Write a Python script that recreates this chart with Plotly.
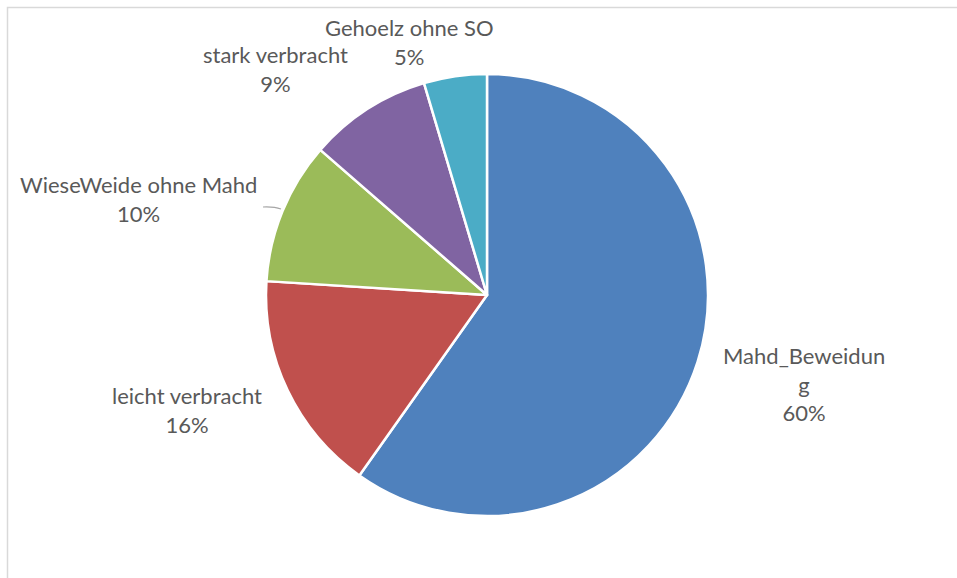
import plotly.graph_objects as go

# Flächenanteile der Nutzungskategorien
categories = ["Mahd_Beweidung", "leicht verbracht", "WieseWeide ohne Mahd",
              "stark verbracht", "Gehoelz ohne SO"]
values = [59.8, 16.2, 10.4, 9.0, 4.6]
display_names = ["Mahd_Beweidun<br>g", "leicht verbracht", "WieseWeide ohne Mahd",
                 "stark verbracht", "Gehoelz ohne SO"]
colors = ["#4F81BD", "#C0504D", "#9BBB59", "#8064A2", "#4BACC6"]

W, H = 957, 578
cx, cy, R = 487, 295, 221

fig = go.Figure(go.Pie(
    labels=categories,
    values=values,
    sort=False,
    direction="clockwise",
    rotation=0,
    marker=dict(colors=colors, line=dict(color="white", width=2.5)),
    textinfo="none",
    hoverinfo="label+percent",
    showlegend=False,
    domain=dict(x=[(cx - R) / W, (cx + R) / W], y=[1 - (cy + R) / H, 1 - (cy - R) / H]),
))

# label anchor positions (pixel centres of the label blocks)
label_pos = [(804, 384), (187, 410), (138, 199), (275, 69), (409, 42)]
total = sum(values)
annotations = []
for name, v, (lx, ly) in zip(display_names, values, label_pos):
    pct = round(v / total * 100)
    annotations.append(dict(
        x=lx / W, y=1 - ly / H, xref="paper", yref="paper",
        text=f"{name}<br>{pct}%", showarrow=False,
        xanchor="center", yanchor="middle", align="center",
        font=dict(family="Lato, 'Open Sans', sans-serif", size=22, color="#595959"),
    ))

shapes = [
    # chart frame
    dict(type="rect", xref="paper", yref="paper",
         x0=7.5 / W, y0=-0.1, x1=1.1, y1=1 - 7.5 / H,
         line=dict(color="#D9D9D9", width=1.5), fillcolor="rgba(0,0,0,0)"),
    # leader line for the small green slice
    dict(type="path", xref="paper", yref="paper",
         path=f"M {263 / W},{1 - 207 / H} Q {274 / W},{1 - 206.5 / H} {281 / W},{1 - 209 / H}",
         line=dict(color="#A6A6A6", width=1.2)),
]

fig.update_layout(
    width=W, height=H,
    margin=dict(l=0, r=0, t=0, b=0),
    paper_bgcolor="white", plot_bgcolor="white",
    annotations=annotations, shapes=shapes,
)

fig.write_html("out.html")
